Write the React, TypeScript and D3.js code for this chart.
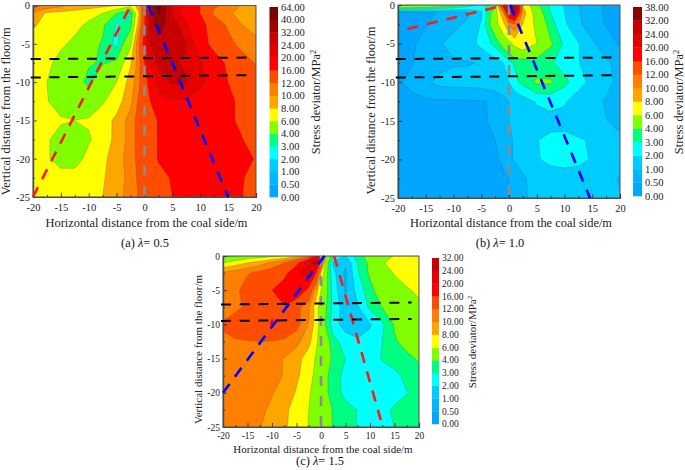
import { useEffect, useRef } from 'react';
import * as d3 from 'd3';

const width = 685;
const height = 470;

// shared grid, metres. rows and columns are not evenly spaced
const gridX = [-20, -17.5, -15, -12.5, -10, -7.5, -5, -2.5, -1, 0, 1, 2.5, 5, 7.5, 10, 12.5, 15, 17.5, 20];
const gridY = [0, -1, -2.5, -5, -7.5, -10, -12.5, -15, -17.5, -20, -22.5, -25];

const xTicks = [-20, -15, -10, -5, 0, 5, 10, 15, 20];
const yTicks = [0, -5, -10, -15, -20, -25];
const xMinor = [-17.5, -12.5, -7.5, -2.5, 2.5, 7.5, 12.5, 17.5];
const yMinor = [-2.5, -7.5, -12.5, -17.5, -22.5];

const levelsA = [0, 0.5, 1, 2, 3, 4, 6, 8, 10, 12, 16, 20, 24, 32, 40, 64];
const levelsB = [0, 0.5, 1, 2, 3, 4, 6, 8, 10, 12, 16, 20, 24, 32, 38];
const levelsC = [0, 0.5, 1, 2, 3, 4, 6, 8, 10, 12, 16, 20, 24, 32];

const bandColors = [
    '#00a6ff', '#00b6ff', '#00ccff', '#00ffff', '#00ff80', '#80ff00', '#ffff00', '#ffa500',
    '#ff8000', '#ff4d00', '#ff0000', '#e60000', '#c80000', '#a00000', '#780000'
];

const stressA = [
    [13, 11.5, 10.5, 9.5, 9, 8.5, 8, 6.5, 9, 15, 30, 45, 24, 18, 16, 12.5, 11, 9.8, 9],
    [9.5, 7.7, 7.4, 7.1, 6.6, 6, 4, 2.9, 8, 15, 26, 42, 24, 18, 16, 11.5, 10.5, 9, 9],
    [8.3, 7.3, 7, 6.5, 5.7, 4.2, 2.9, 3.5, 9, 16, 28, 38, 27, 20.5, 17.5, 14, 11.5, 10, 9.3],
    [7, 6.8, 6.3, 5.6, 4.4, 3.9, 2.6, 5.5, 12, 18, 24, 28, 29, 24.5, 17.5, 15, 13, 11, 10.5],
    [6.8, 6.4, 5.4, 4.8, 4.1, 3.9, 4.3, 7.8, 11, 16, 21, 25, 24.5, 23.5, 20.5, 17.5, 15.5, 13.5, 11.8],
    [6.4, 6, 5, 4.6, 3.7, 5, 6, 8.8, 11.5, 15, 17, 21.5, 24.7, 24.4, 21, 18, 16, 15, 14],
    [6.2, 6.1, 5.2, 4.7, 4.8, 5.8, 7, 9.5, 12.5, 14.5, 16, 19, 19.7, 19.7, 18.5, 17.5, 16.5, 15.5, 14.5],
    [6.4, 6.3, 6.2, 6.02, 6.2, 7, 8.5, 10.8, 13, 14.2, 15.5, 16.1, 17, 17.5, 18, 17.5, 16.5, 15.5, 14.8],
    [6.3, 6.2, 5.3, 4.8, 5.8, 6.9, 8.6, 10.8, 13, 14.2, 15, 16.2, 17, 17.5, 18, 18, 17.3, 16.1, 15],
    [6.4, 6.2, 5.3, 5.2, 6.6, 7.5, 9, 11, 12.7, 14, 15, 16.2, 17, 18, 18.5, 18.5, 18, 17, 15.8],
    [6.8, 6.7, 6.7, 6.8, 7, 7.8, 9, 10.7, 12.5, 14, 15, 15.3, 16.2, 17, 18, 18.2, 17.5, 16.2, 15],
    [7, 7, 7, 7, 7.2, 8, 9.3, 10.8, 12.2, 13.5, 14.5, 15.2, 16, 17, 17.8, 18, 17.2, 16.05, 15]
];

const stressB = [
    [6, 6, 5.5, 5, 4.5, 3.5, 2.8, 3.5, 20, 36, 34, 7.8, 4.3, 2.8, 1.95, 1, 0.65, 0.45, 0.4],
    [0.3, 0.35, 0.45, 0.52, 0.7, 0.9, 1.8, 5, 10, 22, 26, 9, 4.8, 3, 2, 1.05, 0.7, 0.45, 0.4],
    [0.3, 0.38, 0.47, 0.65, 0.85, 1.1, 2.1, 5.2, 7.5, 10, 12, 7.9, 5.5, 3.4, 2.2, 1.1, 0.7, 0.47, 0.4],
    [0.35, 0.45, 0.62, 0.95, 1.2, 1.5, 2.3, 3.3, 4.6, 5.4, 6.5, 7.5, 6, 4.2, 2.8, 2.05, 1.1, 0.7, 0.45],
    [0.35, 0.48, 0.65, 0.8, 0.95, 0.95, 1.05, 1.6, 2, 2.7, 3.1, 3.2, 3.3, 3.15, 2.5, 2.05, 1.5, 1.1, 0.8],
    [0.45, 0.6, 0.9, 1.15, 1.2, 1.2, 1.25, 1.4, 1.7, 2, 2.7, 3.3, 4.2, 4.15, 3.3, 2.4, 1.7, 1.15, 0.85],
    [0.35, 0.4, 0.42, 0.43, 0.44, 0.45, 0.47, 0.55, 0.7, 1, 1.2, 1.5, 2.1, 2.3, 2.1, 1.5, 1.15, 0.95, 0.8],
    [0.3, 0.32, 0.33, 0.35, 0.37, 0.4, 0.42, 0.6, 0.72, 1, 1.1, 1.3, 1.6, 1.7, 1.7, 1.4, 1.2, 1.02, 0.85],
    [0.28, 0.3, 0.32, 0.34, 0.36, 0.38, 0.42, 0.5, 0.7, 0.92, 1.05, 1.3, 1.97, 2.2, 2.25, 2.1, 1.9, 1.3, 1.1],
    [0.28, 0.3, 0.3, 0.32, 0.34, 0.36, 0.38, 0.42, 0.6, 0.92, 1.05, 1.3, 1.95, 2.15, 2.2, 2.15, 1.95, 1.4, 1.15],
    [0.28, 0.3, 0.3, 0.3, 0.32, 0.32, 0.34, 0.35, 0.42, 0.5, 0.65, 0.9, 1.3, 1.7, 1.75, 1.7, 1.5, 1.2, 0.95],
    [0.28, 0.3, 0.3, 0.3, 0.32, 0.32, 0.34, 0.35, 0.42, 0.5, 0.65, 0.9, 1.2, 1.3, 1.3, 1.3, 1.3, 1.2, 1.05]
];

const stressC = [
    [3.6, 3.8, 4.6, 5, 5.4, 6, 7.5, 11, 20, 30, 6, 3, 1.9, 3.5, 4.6, 5.3, 6.1, 6.5, 6.5],
    [6, 7, 8, 9, 10.5, 12, 15, 22, 28, 14, 5, 1.8, 1.2, 3, 4.3, 5.8, 6.8, 6.6, 6.5],
    [10.4, 11, 11.8, 12.7, 13.5, 15, 19, 23, 16, 8, 4.5, 2.3, 0.8, 2.9, 4.2, 5.3, 6.1, 6.8, 7],
    [10.8, 11.5, 13, 14.2, 16, 18, 19.5, 15, 9, 6, 4.4, 2.6, 0.9, 2.4, 3.6, 4.8, 5.3, 5.8, 6.3],
    [11.2, 11.6, 12.3, 14, 15.5, 15.8, 12.8, 10.3, 7, 4.9, 4.1, 2.7, 1.4, 1.9, 3.2, 4.05, 4.7, 5.3, 5.7],
    [12.2, 13, 13.8, 14.8, 16.3, 15, 12.8, 9.9, 7, 5, 3.9, 2.5, 1.5, 1.6, 1.9, 2.8, 4.1, 4.8, 5],
    [11.7, 11.8, 11.9, 12, 11.9, 11.5, 10.6, 8.6, 6.4, 5, 4.7, 3.3, 2.6, 2.1, 2.3, 3, 3.9, 4.3, 4.5],
    [11.6, 11.5, 11.3, 11, 10.6, 9.9, 8.8, 7, 5.8, 5, 4.5, 3.8, 3, 2.6, 2.3, 3.1, 3.5, 3.8, 4.1],
    [11.5, 11.4, 11.2, 10.9, 10.5, 9.9, 8.4, 6.7, 5.5, 4.7, 4.2, 3.5, 2.7, 2.4, 2.3, 2.4, 2.7, 3.3, 3.7],
    [11.4, 11.2, 11, 10.7, 10.1, 9.3, 7.8, 6.2, 5.3, 4.6, 4.2, 3.5, 2.7, 2.4, 2.2, 2.2, 2.5, 2.95, 3.3],
    [11.2, 11, 10.7, 10.3, 9.7, 8.4, 7.3, 6, 5.2, 4.8, 4.5, 3.9, 3.4, 2.95, 2.4, 2.6, 3.2, 3.5, 3.7],
    [11, 10.8, 10.5, 10.1, 9.3, 8.3, 7.2, 5.9, 5.3, 4.8, 4.5, 3.9, 3.4, 2.95, 2.5, 2.6, 3.02, 3.4, 3.6]
];

// overlay lines in data units: [x0, y0, x1, y1]
const roofA = [-20.4, -7, 18.5, -6.8];
const floorA = [-20.4, -9.4, 18.5, -9.1];
const redA = [-20, -25, -2.5, 0];
const blueA = [0.7, 0, 15, -25];
const roofB = [-20.4, -7, 18.5, -6.8];
const floorB = [-20.4, -9.4, 18.5, -9.1];
const redB = [-18.3, -3.1, -0.7, 0];
const blueB = [0.2, 0, 14.6, -25];
const roofC = [-20.4, -7.1, 18.5, -6.8];
const floorC = [-20.4, -9.5, 18.5, -9.2];
const blueC = [-20, -20, 0.7, 0];
const redC = [2.7, 0, 12.2, -24];
const centre = [0, 0, 0, -25];

const panels = [
    {
        key: 'a', values: stressA, levels: levelsA, label: 'a', lambda: '0.5',
        box: [33, 5.5, 256, 197], legend: [269.5, 7, 278, 197], xLab: 6, legX: 320,
        tickPad: 7, titleY: 226.5, capY: 246.5, capX: 145, font: 12.4, tickFont: 10.5, legTitle: 102, yShift: 10,
        lines: [[redA, '#ff1a1a'], [blueA, '#0000ff'], [roofA, '#000'], [floorA, '#000']]
    },
    {
        key: 'b', values: stressB, levels: levelsB, label: 'b', lambda: '1.0',
        box: [398, 5, 620, 198], legend: [633, 7, 642, 196], xLab: 371, legX: 683,
        tickPad: 7, titleY: 226.5, capY: 246.5, capX: 500, font: 12.4, tickFont: 10.5, legTitle: 102, yShift: 9,
        lines: [[redB, '#ff1a1a'], [blueB, '#0000ff'], [roofB, '#000'], [floorB, '#000']]
    },
    {
        key: 'c', values: stressC, levels: levelsC, label: 'c', lambda: '1.5',
        box: [223, 256, 419, 427], legend: [432, 258, 439, 424], xLab: 198, legX: 475.5,
        tickPad: 5, titleY: 452.5, capY: 465, capX: 320, font: 11, tickFont: 9.5, legTitle: 342, yShift: 8,
        lines: [[blueC, '#0000ff'], [redC, '#ff1a1a'], [roofC, '#000'], [floorC, '#000']]
    }
];

const serif = '"Liberation Serif", "Times New Roman", serif';

export default function App() {
    const root = useRef<SVGSVGElement>(null);

    useEffect(() => {
        const svg = d3.select(root.current);
        svg.selectAll('*').remove();

        panels.forEach((p) => {
            const [x0, y0, x1, y1] = p.box;
            const x = d3.scaleLinear().domain([-20, 20]).range([x0, x1]);
            const y = d3.scaleLinear().domain([0, -25]).range([y0, y1]);

            // d3.contours puts value i at i + 0.5; stretch the half cells at the edges to nothing
            const nx = gridX.length;
            const ny = gridY.length;
            const gx = d3
                .scaleLinear()
                .domain([0, ...gridX.map((_, i) => i + 0.5), nx])
                .range([x(gridX[0]), ...gridX.map((d) => x(d)), x(gridX[nx - 1])]);
            const gy = d3
                .scaleLinear()
                .domain([0, ...gridY.map((_, i) => i + 0.5), ny])
                .range([y(gridY[0]), ...gridY.map((d) => y(d)), y(gridY[ny - 1])]);

            const thresholds = p.levels.slice(0, -1);
            const bands = d3.contours().size([nx, ny]).smooth(true).thresholds(thresholds)(p.values.flat());
            const path = d3.geoPath();

            const clipId = `plot-${p.key}`;
            svg.append('clipPath').attr('id', clipId).append('rect')
                .attr('x', x0).attr('y', y0).attr('width', x1 - x0).attr('height', y1 - y0);

            const g = svg.append('g').attr('clip-path', `url(#${clipId})`);
            g.selectAll('path')
                .data(bands)
                .join('path')
                .attr('d', (c) =>
                    path({
                        type: 'MultiPolygon',
                        coordinates: c.coordinates.map((poly) =>
                            poly.map((ring) => ring.map(([a, b]) => [gx(a), gy(b)]))
                        )
                    } as any)
                )
                .attr('fill', (_, i) => (p.key === 'b' && i === 13 ? '#8c0000' : bandColors[i]))
                .attr('stroke', '#555')
                .attr('stroke-opacity', 0.55)
                .attr('stroke-width', 0.5);

            // frame and ticks, all pointing inward
            const axisStyle = (sel: any) => {
                sel.select('.domain').attr('stroke', '#444').attr('stroke-width', 1.2);
                sel.selectAll('.tick line').attr('stroke', '#222').attr('stroke-width', 0.8);
                sel.selectAll('text').attr('font-family', serif).attr('font-size', p.tickFont).attr('fill', '#222');
            };
            const fmt = (d: any) => String(d);

            svg.append('g')
                .attr('transform', `translate(0,${y1})`)
                .call(d3.axisBottom(x).tickValues(xTicks).tickSize(-4).tickPadding(p.tickPad).tickFormat(fmt))
                .call(axisStyle);
            svg.append('g')
                .attr('transform', `translate(0,${y1})`)
                .call(d3.axisBottom(x).tickValues(xMinor).tickSize(-2).tickSizeOuter(0).tickFormat(() => ''))
                .call(axisStyle);
            svg.append('g')
                .attr('transform', `translate(${x0},0)`)
                .call(d3.axisLeft(y).tickValues(yTicks).tickSize(-4).tickPadding(3).tickFormat(fmt))
                .call(axisStyle);
            svg.append('g')
                .attr('transform', `translate(${x0},0)`)
                .call(d3.axisLeft(y).tickValues(yMinor).tickSize(-2).tickSizeOuter(0).tickFormat(() => ''))
                .call(axisStyle);
            svg.append('rect')
                .attr('x', x0).attr('y', y0).attr('width', x1 - x0).attr('height', y1 - y0)
                .attr('fill', 'none').attr('stroke', '#555').attr('stroke-width', 1);

            // dashed overlays
            svg.append('line')
                .attr('x1', x(centre[0])).attr('y1', y(centre[1])).attr('x2', x(centre[2])).attr('y2', y(centre[3]))
                .attr('stroke', '#8c8c8c').attr('stroke-width', 2.6).attr('stroke-dasharray', '10 10');
            p.lines.forEach(([c, color]: any) => {
                const isLevel = color === '#000';
                svg.append('line')
                    .attr('x1', x(c[0])).attr('y1', y(c[1])).attr('x2', x(c[2])).attr('y2', y(c[3]))
                    .attr('stroke', color)
                    .attr('stroke-width', isLevel ? 2 : 2.6)
                    .attr('stroke-dasharray', isLevel ? '10 8.7' : '11 9');
            });

            // colour legend, one box per band
            const [lx0, ly0, lx1, ly1] = p.legend;
            const ly = d3.scaleLinear().domain([0, p.levels.length - 1]).range([ly1, ly0]);
            svg.append('g')
                .selectAll('rect')
                .data(p.levels.slice(0, -1))
                .join('rect')
                .attr('x', lx0)
                .attr('y', (_, i) => ly(i + 1))
                .attr('width', lx1 - lx0)
                .attr('height', (_, i) => ly(i) - ly(i + 1) + 0.3)
                .attr('fill', (_, i) => (p.key === 'b' && i === 13 ? '#8c0000' : bandColors[i]));
            svg.append('g')
                .selectAll('text')
                .data(p.levels)
                .join('text')
                .attr('x', lx1 + 3)
                .attr('y', (_, i) => ly(i))
                .attr('dy', '0.35em')
                .attr('font-family', serif)
                .attr('font-size', p.tickFont)
                .attr('fill', '#222')
                .text((d) => d.toFixed(2));

            const legTitle = svg.append('text')
                .attr('transform', `translate(${p.legX},${p.legTitle}) rotate(-90)`)
                .attr('text-anchor', 'middle')
                .attr('font-family', serif)
                .attr('font-size', p.font)
                .attr('fill', '#222')
                .text('Stress deviator/MPa');
            legTitle.append('tspan').attr('dy', -4).attr('font-size', p.font - 4).text('2');

            svg.append('text')
                .attr('x', (x0 + x1) / 2 + 2)
                .attr('y', p.titleY)
                .attr('text-anchor', 'middle')
                .attr('font-family', serif)
                .attr('font-size', p.font)
                .attr('fill', '#222')
                .text('Horizontal distance from the coal side/m');

            svg.append('text')
                .attr('transform', `translate(${p.xLab},${(y0 + y1) / 2 + p.yShift}) rotate(-90)`)
                .attr('text-anchor', 'middle')
                .attr('dy', '0.35em')
                .attr('font-family', serif)
                .attr('font-size', p.font)
                .attr('fill', '#222')
                .text('Vertical distance from the floor/m');

            const cap = svg.append('text')
                .attr('x', p.capX)
                .attr('y', p.capY)
                .attr('text-anchor', 'middle')
                .attr('font-family', serif)
                .attr('font-size', 12.4)
                .attr('fill', '#111');
            cap.append('tspan').text(`(${p.label}) `);
            cap.append('tspan').attr('font-style', 'italic').text('λ');
            cap.append('tspan').text(`= ${p.lambda}`);
        });
    }, []);

    return (
        <svg
            ref={root}
            width={width}
            height={height}
            viewBox={`0 0 ${width} ${height}`}
            style={{ position: 'absolute', left: 0, top: 0, background: '#fff' }}
        />
    );
}
